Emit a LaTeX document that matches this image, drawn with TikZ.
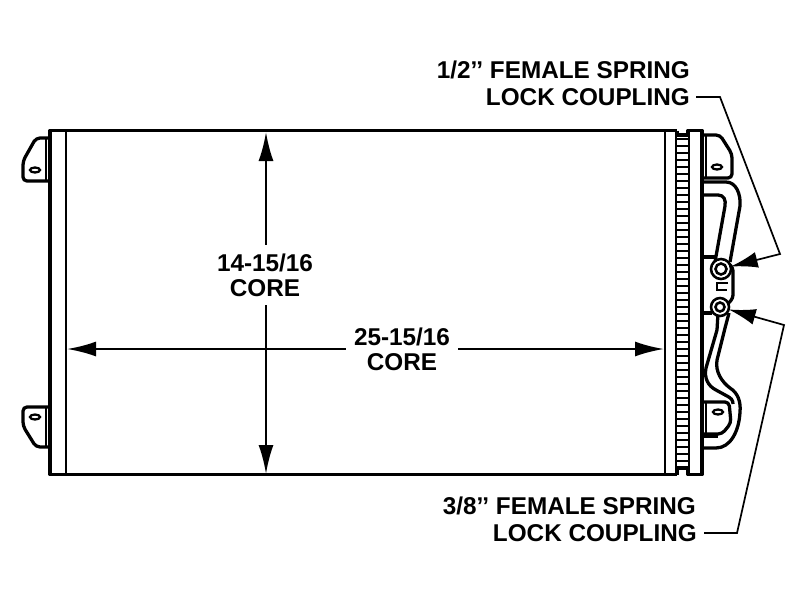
\documentclass[tikz,border=0pt]{standalone}
\usepackage{fontspec}
\setmainfont{Liberation Sans}
\usetikzlibrary{arrows.meta}
\tikzset{
	outline/.style={line width=1.15mm, line join=round},
	thinline/.style={line width=0.7mm},
	dimline/.style={line width=0.8mm, {Latex[length=29pt,width=15pt]}-},
	leader/.style={line width=0.6mm, -{Latex[length=27pt,width=16pt]}},
	label/.style={font=\bfseries\fontsize{24.3}{27}\selectfont, inner sep=0pt, anchor=east},
	corelabel/.style={font=\bfseries\fontsize{24.3}{25}\selectfont, align=center, inner sep=8pt},
	coupling/.style={circle, draw, fill=white, line width=0.9mm, inner sep=0pt, outer sep=0pt},
	slot/.style={line width=0.8mm}
}
\begin{document}
\begin{tikzpicture}[x=1pt, y=-1pt]
		%%%%% START %%%%%
		\useasboundingbox (0, 0) rectangle (800, 600);
		
		% core
		\draw[outline] (677, 130.5) -- (50, 130.5) -- (50, 474.5) -- (677, 474.5);
		\draw[outline] (677, 130.5) -- (677, 135) -- (688, 135) -- (688, 130.5) -- (702, 130.5) -- (702, 474.5) -- (688, 474.5) -- (688, 468) -- (677, 468) -- (677, 474.5);
		\draw[thinline] (66, 130) -- (66, 474);
		\draw[thinline] (665, 130) -- (665, 474);
		\draw[thinline] (676, 135) -- (676, 468);
		\draw[thinline] (689, 135) -- (689, 468);
		
		% fins
		\foreach \y in {139, 146, ..., 465} {
			\draw[line width=0.6mm] (676, \y) -- (689, \y);
		}
		
		% left brackets
		\draw[outline, rounded corners=4pt] (49, 138) -- (36, 138) -- (23, 161) -- (23, 181) -- (49, 181);
		\draw[thinline] (46, 138) -- (46, 181);
		\draw[slot] (35, 170) ellipse (5 and 2.5);
		\draw[outline, rounded corners=4pt] (49, 407) -- (23, 407) -- (23, 426) -- (36, 447) -- (49, 447);
		\draw[thinline] (46, 407) -- (46, 447);
		\draw[slot] (35, 417) ellipse (5 and 2.5);
		
		% right brackets
		\draw[outline, rounded corners=4pt] (702, 135) -- (720, 135) -- (732, 154) -- (732, 178) -- (702, 178);
		\draw[thinline] (706, 135) -- (706, 178);
		\draw[slot] (717, 167) ellipse (5 and 2.5);
		\draw[outline, rounded corners=4pt] (702, 402) -- (729, 402) -- (731, 423) -- (722, 434) -- (702, 434);
		\draw[line width=1.3mm] (702, 436) -- (718, 436);
		\draw[thinline] (706, 402) -- (706, 434);
		\draw[slot] (718, 412) ellipse (5 and 2.5);
		
		% upper tube
		\draw[outline] (702, 182) -- (726, 182) .. controls (736, 182) and (741, 194) .. (740, 206) -- (730, 262);
		\draw[outline] (702, 195) -- (718, 195) .. controls (724, 195) and (726, 200) .. (725, 206) -- (715, 262);
		\draw[outline] (702, 257) -- (716, 257);
		
		% lower tube
		\draw[outline] (729, 313) -- (725, 328) -- (717, 360) .. controls (715, 372) and (722, 382) .. (730, 388) .. controls (738, 393) and (741, 402) .. (740, 412) .. controls (739, 432) and (730, 448) .. (716, 448) -- (702, 448);
		\draw[outline] (718, 313) -- (717, 330) -- (706, 368) .. controls (704, 378) and (708, 386) .. (716, 390) -- (727, 396) .. controls (731, 398) and (733, 400) .. (733, 404);
		\draw[outline] (702, 313) -- (712, 313);
		
		% coupling body
		\draw[outline, rounded corners=3pt] (727, 262) -- (733, 268) -- (733, 298) -- (727, 305);
		\draw[thinline] (728, 283) -- (717, 283) -- (717, 290) -- (727, 290);
		
		% couplings
		\node[coupling, minimum size=20pt] (cplhalf) at (721, 269) {};
		\node[coupling, minimum size=11pt] (cplhalfin) at (721, 269) {};
		\node[coupling, minimum size=18pt] (cplthree) at (720, 307) {};
		\node[coupling, minimum size=9pt] (cplthreein) at (720, 307) {};
		
		% dimensions
		\node[corelabel] (heightlabel) at (265, 275) {14-15/16\\CORE};
		\node[corelabel] (widthlabel) at (402, 349) {25-15/16\\CORE};
		\coordinate (heighttop) at (266, 132);
		\coordinate (heightbot) at (266, 474);
		\coordinate (widthleft) at (67, 349);
		\coordinate (widthright) at (664, 349);
		\draw[dimline] (heighttop) -- (heightlabel.north -| heighttop);
		\draw[dimline] (heightbot) -- (heightlabel.south -| heightbot);
		\draw[dimline] (widthleft) -- (widthlabel.west);
		\draw[dimline] (widthright) -- (widthlabel.east);
		
		% coupling labels
		\node[label] (halfname) at (690, 70) {1/2{'}{'} FEMALE SPRING};
		\node[label] (halflock) at (690, 97) {LOCK COUPLING};
		\node[label] (threename) at (696, 506) {3/8{'}{'} FEMALE SPRING};
		\node[label] (threelock) at (697, 533) {LOCK COUPLING};
		\coordinate (halfbend) at (780, 254);
		\coordinate (threebend) at (784, 325);
		\coordinate (halfknee) at (720, 97);
		\coordinate (threeknee) at (737, 533);
		\draw[leader] ([xshift=6pt]halflock.east) -- (halfknee) -- (halfbend) -- (cplhalf);
		\draw[leader] ([xshift=7pt]threelock.east) -- (threeknee) -- (threebend) -- (cplthree);
		
		%%%%% END %%%%%
	\end{tikzpicture}
\end{document}
